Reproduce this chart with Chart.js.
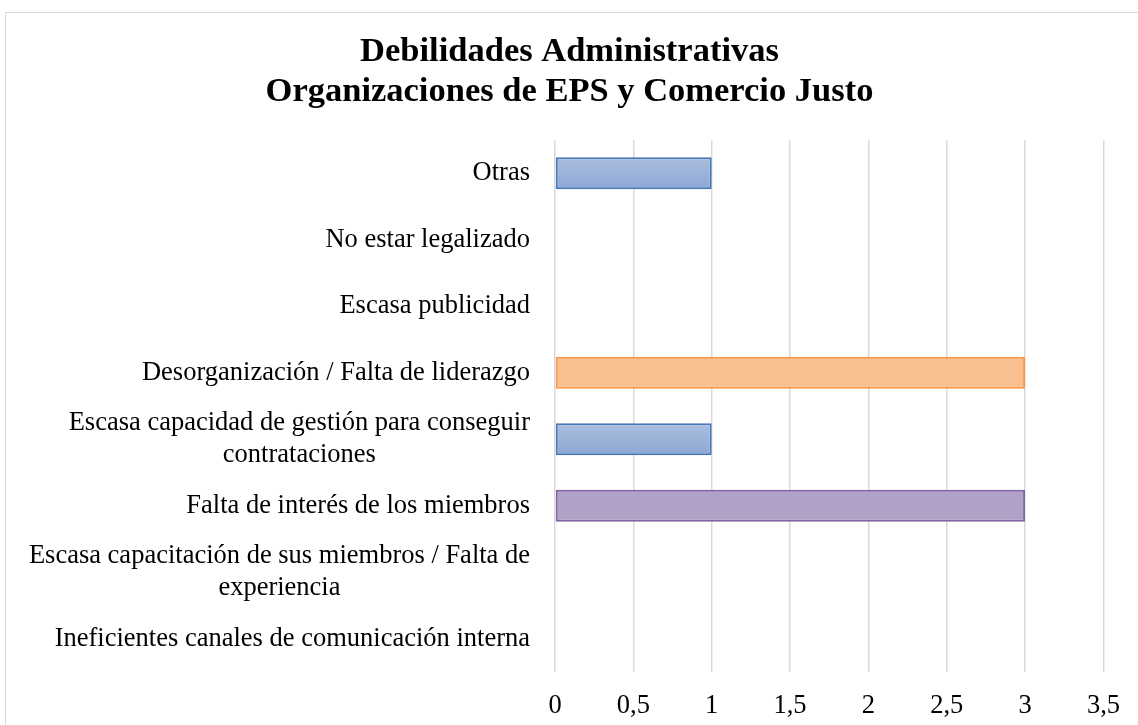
<!DOCTYPE html>
<html>
<head>
<meta charset="utf-8">
<script src="https://cdn.jsdelivr.net/npm/chart.js@4/dist/chart.umd.min.js"></script>
<style>
  html, body { margin: 0; padding: 0; background: #fff; overflow: hidden; }
  #frame { position: absolute; left: 5px; top: 12px; width: 1300px; height: 900px; border: 1px solid #d9d9d9; }
  #wrap { position: absolute; left: 0; top: 0; width: 1138px; height: 725px; }
</style>
</head>
<body>
<div id="frame"></div>
<div id="wrap"><canvas id="debChart" width="1138" height="725"></canvas></div>
<script>
const categories = [
  "Otras",
  "No estar legalizado",
  "Escasa publicidad",
  "Desorganización / Falta de liderazgo",
  ["Escasa capacidad de gestión para conseguir", "contrataciones"],
  "Falta de interés de los miembros",
  ["Escasa capacitación de sus miembros / Falta de", "experiencia"],
  "Ineficientes canales de comunicación interna"
];
const values = [1, 0, 0, 3, 1, 3, 0, 0];
const barKinds = ["blue", "blue", "blue", "orange", "blue", "purple", "blue", "blue"];
const xTicks = [0, 0.5, 1, 1.5, 2, 2.5, 3, 3.5];

const serif = "'Liberation Serif', 'Times New Roman', serif";

const fills = { orange: "#f9c08f", purple: "#b1a1c6" };
const borders = { blue: "#4578b8", orange: "#f79646", purple: "#8064a2" };

// fill for each bar; blue ones get a light vertical gradient like the original
function barFill(ctx) {
  const kind = barKinds[ctx.dataIndex];
  if (kind !== "blue") return fills[kind];
  const y = ctx.chart.scales.y;
  const c = y ? y.getPixelForValue(ctx.dataIndex) : NaN;
  if (!isFinite(c)) return "#9db3d9";
  const g = ctx.chart.ctx.createLinearGradient(0, c - 16, 0, c + 16);
  g.addColorStop(0, "#abbddd");
  g.addColorStop(1, "#8da8d5");
  return g;
}

// y labels: first line right-aligned, wrapped lines centred under it
const yLabels = {
  id: "yLabels",
  afterDraw(chart) {
    const ctx = chart.ctx;
    const y = chart.scales.y;
    const right = chart.chartArea.left - 25;
    ctx.save();
    ctx.font = "26.5px " + serif;
    ctx.fillStyle = "#000";
    ctx.textBaseline = "middle";
    categories.forEach((lab, i) => {
      const lines = Array.isArray(lab) ? lab : [lab];
      const cy = y.getPixelForValue(i);
      const step = 32;
      const w0 = ctx.measureText(lines[0]).width;
      lines.forEach((ln, j) => {
        const ly = cy + (j - (lines.length - 1) / 2) * step;
        if (j === 0) {
          ctx.textAlign = "right";
          ctx.fillText(ln, right, ly);
        } else {
          ctx.textAlign = "center";
          ctx.fillText(ln, right - w0 / 2, ly);
        }
      });
    });
    ctx.restore();
  }
};

const chart = new Chart("debChart", {
  type: "bar",
  data: {
    labels: categories,
    datasets: [{
      data: values,
      backgroundColor: barFill,
      borderColor: barKinds.map(k => borders[k]),
      borderWidth: values.map(v => (v > 0 ? 2 : 0)),
      borderSkipped: false,
      barPercentage: 0.48,
      categoryPercentage: 1
    }]
  },
  options: {
    indexAxis: "y",
    responsive: false,
    animation: false,
    layout: { padding: { left: 33, right: 32, top: 12, bottom: 0 } },
    plugins: {
      legend: { display: false },
      tooltip: { enabled: false },
      title: {
        display: true,
        text: ["Debilidades Administrativas", "Organizaciones de EPS y Comercio Justo"],
        color: "#000",
        font: { family: serif, size: 34.5, weight: "bold", lineHeight: 40 / 34.5 },
        padding: { top: 20, bottom: 28 }
      }
    },
    scales: {
      x: {
        min: 0,
        max: 3.5,
        afterBuildTicks: s => { s.ticks = xTicks.map(v => ({ value: v })); },
        afterFit: s => { s.height = 53; },
        border: { display: false },
        grid: { color: "#d9d9d9", lineWidth: 1.5, drawTicks: false },
        ticks: {
          padding: 18,
          color: "#000",
          font: { family: serif, size: 26.5 },
          callback: v => String(v).replace(".", ",")
        }
      },
      y: {
        afterFit: s => { s.width = 522; },
        border: { display: false },
        grid: { display: false },
        ticks: { display: false }
      }
    }
  },
  plugins: [yLabels]
});
// second pass so the gradients see the laid-out scale
chart.update();
</script>
</body>
</html>
